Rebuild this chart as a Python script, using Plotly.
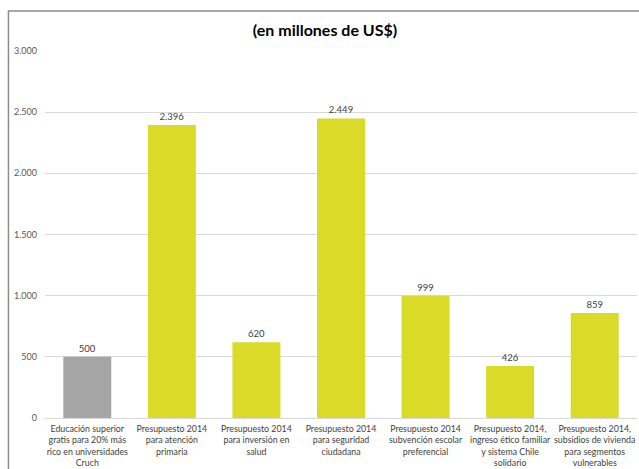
import plotly.graph_objects as go

categories = [
    "Educación superior<br>gratis para 20% más<br>rico en universidades<br>Cruch",
    "Presupuesto 2014<br>para atención<br>primaria",
    "Presupuesto 2014<br>para inversión en<br>salud",
    "Presupuesto 2014<br>para seguridad<br>ciudadana",
    "Presupuesto 2014<br>subvención escolar<br>preferencial",
    "Presupuesto 2014,<br>ingreso ético familiar<br>y sistema Chile<br>solidario",
    "Presupuesto 2014,<br>subsidios de vivienda<br>para segmentos<br>vulnerables",
]
values = [500, 2396, 620, 2449, 999, 426, 859]
bar_colors = ["#A5A5A5", "#DADA28", "#DADA28", "#DADA28", "#DADA28", "#DADA28", "#DADA28"]
title_text = "(en millones de US$)"

font_family = "Lato, 'Open Sans', sans-serif"

fig = go.Figure()
fig.add_trace(go.Bar(
    x=categories,
    y=values,
    marker=dict(color=bar_colors, line=dict(width=0)),
    texttemplate="%{y:,}",
    textposition="outside",
    textfont=dict(size=9.5, color="#404040", family=font_family),
    cliponaxis=False,
    hoverinfo="skip",
))

W, H = 639, 469
ml, mr, mt, mb = 44.6, 1.6, 51, 51
pw = W - ml - mr
ph = H - mt - mb

def px_x(px):
    return (px - ml) / pw

def px_y(py):
    return 1 - (py - mt) / ph

fig.update_layout(
    width=W, height=H,
    margin=dict(l=ml, r=mr, t=mt, b=mb, pad=0, autoexpand=False),
    paper_bgcolor="white",
    plot_bgcolor="white",
    separators=",.",
    showlegend=False,
    bargap=0.433,
    font=dict(family=font_family, color="#404040"),
    title=dict(
        text="<b>" + title_text + "</b>",
        x=px_x(325), xref="paper", xanchor="center",
        y=1 - 30 / H, yref="container", yanchor="middle",
        font=dict(size=16, color="#000000", family=font_family),
    ),
    xaxis=dict(
        showgrid=False, showline=False, ticks="",
        tickfont=dict(size=8.8, color="#404040", family=font_family),
        tickangle=0, ticklabelstandoff=4, automargin=False,
        fixedrange=True,
    ),
    yaxis=dict(
        range=[0, 3000],
        tickvals=[0, 500, 1000, 1500, 2000, 2500, 3000],
        tickformat=",d",
        showgrid=True, gridcolor="#D9D9D9", gridwidth=1,
        zeroline=True, zerolinecolor="#D9D9D9", zerolinewidth=1,
        showline=False, ticks="", ticklabelstandoff=7, automargin=False,
        tickfont=dict(size=9, color="#595959", family=font_family),
        fixedrange=True,
    ),
    shapes=[dict(
        type="rect", xref="paper", yref="paper",
        x0=px_x(8), x1=px_x(700), y0=px_y(11), y1=px_y(520),
        line=dict(color="#8C8C8C", width=1.5),
        fillcolor="rgba(0,0,0,0)", layer="below",
    )],
)

fig.write_html("out.html")
